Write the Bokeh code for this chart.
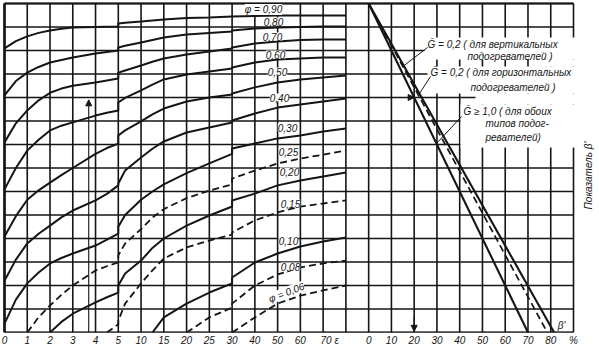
import numpy as np
from bokeh.plotting import figure
from bokeh.models import Range1d, FixedTicker, Label, Arrow, NormalHead
from bokeh.embed import file_html
from bokeh.resources import INLINE

# ---------------- data ----------------
# epsilon scale of the left nomogram (equal spacing per listed value; 80 = right border)
EPS_AXIS = [0, 1, 2, 3, 4, 5, 10, 15, 20, 25, 30, 40, 50, 60, 70, 80]
EPS_TICK_LABELS = ["0", "1", "2", "3", "4", "5", "10", "15", "20", "25", "30", "40", "50", "60", "70  ε"]
BETA_TICKS = [0, 10, 20, 30, 40, 50, 60, 70, 80, 90]
BETA_TICK_LABELS = ["0", "10", "20", "30", "40", "50", "60", "70", "80", "%"]

PHI_LABELS = ["0,90", "0,80", "0,70", "0,60", "0,50", "0,40", "0,30",
              "0,25", "0,20", "0,15", "0,10", "0,08", "0,06"]
PHI_DASHED = [False, False, False, False, False, False, False,
              True, False, True, False, True, True]

nan = float("nan")
EPS_SEG1 = [0, 0.5, 1, 1.5, 2, 2.5, 3, 4, 4.5, 5]
U_SEG1 = [
    [12.09, 12.40, 12.60, 12.75, 12.85, 12.93, 12.98, 13.00, 13.01, 13.02],
    [10.09, 10.70, 11.06, 11.30, 11.49, 11.60, 11.70, 11.87, 11.94, 12.00],
    [8.09, 8.90, 9.45, 9.88, 10.20, 10.38, 10.50, 10.64, 10.72, 10.81],
    [6.09, 7.00, 7.74, 8.20, 8.60, 8.80, 8.94, 9.23, 9.35, 9.45],
    [4.09, 4.95, 5.65, 6.05, 6.38, 6.70, 7.00, 7.60, 7.85, 8.04],
    [2.20, 3.10, 3.79, 4.20, 4.55, 4.90, 5.19, 5.62, 5.90, 6.26],
    [0.38, 1.40, 2.09, 2.55, 2.94, 3.17, 3.36, 3.70, 3.95, 4.21],
    [nan, nan, 0.00, 0.65, 1.15, 1.60, 2.00, 2.64, 2.82, 2.98],
    [nan, nan, nan, nan, 0.00, 0.45, 0.80, 1.28, 1.50, 1.70],
    [nan, nan, nan, nan, nan, nan, nan, nan, 0.00, 0.35],
    [nan] * 10,
    [nan] * 10,
    [nan] * 10,
]
EPS_SEG2 = [5, 6.5, 10, 12.5, 15, 20, 25, 30]
U_SEG2 = [
    [13.15, 13.18, 13.23, 13.28, 13.32, 13.38, 13.40, 13.45],
    [12.13, 12.20, 12.34, 12.45, 12.55, 12.68, 12.74, 12.81],
    [11.06, 11.15, 11.36, 11.52, 11.66, 11.83, 11.96, 12.09],
    [9.79, 9.98, 10.30, 10.55, 10.77, 10.98, 11.11, 11.23],
    [8.38, 8.60, 8.98, 9.28, 9.53, 9.83, 10.00, 10.13],
    [6.34, 6.89, 7.45, 7.82, 8.13, 8.51, 8.72, 8.94],
    [4.50, 5.00, 5.65, 6.00, 6.30, 6.78, 7.20, 7.60],
    [3.28, 3.79, 4.40, 4.89, 5.25, 5.72, 6.04, 6.30],
    [2.00, 2.51, 3.06, 3.60, 4.00, 4.55, 4.98, 5.36],
    [0.50, 1.23, 2.09, 2.64, 3.15, 3.62, 3.91, 4.17],
    [nan, nan, nan, 0.00, 0.64, 1.23, 1.70, 2.09],
    [nan, nan, nan, nan, nan, 0.00, 0.64, 1.06],
    [nan] * 8,
]
EPS_SEG3 = [30, 40, 50, 60, 70, 80]
U_SEG3 = [
    [13.45, 13.47, 13.49, 13.49, 13.49, 13.49],
    [12.85, 12.94, 12.98, 13.00, 13.02, 13.02],
    [12.13, 12.30, 12.38, 12.45, 12.47, 12.47],
    [11.28, 11.49, 11.62, 11.66, 11.70, 11.70],
    [10.17, 10.43, 10.64, 10.77, 10.85, 10.94],
    [9.02, 9.32, 9.57, 9.70, 9.83, 9.96],
    [7.83, 8.04, 8.26, 8.38, 8.55, 8.68],
    [6.55, 6.89, 7.19, 7.40, 7.57, 7.74],
    [5.62, 5.91, 6.26, 6.47, 6.64, 6.81],
    [4.26, 4.77, 5.11, 5.36, 5.49, 5.62],
    [2.34, 2.98, 3.36, 3.66, 3.87, 4.04],
    [1.23, 2.00, 2.47, 2.77, 2.94, 3.06],
    [0.00, 0.64, 1.23, 1.57, 1.79, 2.00],
]

# right panel: beta' lines from 0 % (top) to their value at the bottom
BETA_LINE_LABELS = ["G=0.2 vertical", "G=0.2 horizontal", "G>=1.0"]
BETA_LINE_END = [81.5, 78.5, 70.0]
BETA_LINE_DASH = ["solid", "dashed", "solid"]

# worked example
EXAMPLE_EPS = 3.7
EXAMPLE_U = 10.0
EXAMPLE_BETA = 20.0

# ---------------- scales ----------------
N_ROWS = 14
BETA_ZERO_COL = 16
N_COLS = 25


def ex(eps):
    return np.interp(eps, EPS_AXIS, np.arange(len(EPS_AXIS)))


def bx(beta):
    return BETA_ZERO_COL + np.asarray(beta, dtype=float) / 10.0


def beta_on_line(u, end):
    return float(np.interp(u, [0, N_ROWS], [end, 0.0]))


W, H = 599, 351
PX0, PXU, PYU = 4.0, 22.76, 23.5
FRAME_H = 332

p = figure(width=W, height=H,
           x_range=Range1d(-PX0 / PXU, (W - PX0) / PXU),
           y_range=Range1d(0, FRAME_H / PYU),
           output_backend="svg", toolbar_location=None,
           y_axis_location=None,
           min_border_left=0, min_border_right=0,
           min_border_top=0, min_border_bottom=19)
p.outline_line_color = None
p.grid.visible = False
p.background_fill_color = "white"
p.border_fill_color = "white"

INK = "#151515"
FONT = "Liberation Sans"

# grid
cols = np.arange(N_COLS + 1)
rows = np.arange(N_ROWS + 1)
p.segment(x0=cols, y0=0, x1=cols, y1=N_ROWS, line_color=INK, line_width=1.6)
p.segment(x0=0, y0=rows, x1=N_COLS, y1=rows, line_color=INK, line_width=1.4)
# thicker outer frame of the left part
p.line(x=[0, 0], y=[0, N_ROWS], line_color=INK, line_width=2.6)
p.line(x=[0, N_COLS], y=[0, 0], line_color=INK, line_width=2.0)
p.line(x=[0, N_COLS], y=[N_ROWS, N_ROWS], line_color=INK, line_width=1.8)


def px2x(px):
    return (px - PX0) / PXU


def py2y(py):
    return (FRAME_H - py) / PYU


# white areas behind the right-hand notes (as on the original sheet)
boxes = [(424, 580, 37, 59), (427, 580, 66, 93), (475, 580, 93, 104),
         (460, 580, 104, 147), (540, 580, 59, 66)]
p.quad(left=[px2x(b[0]) for b in boxes], right=[px2x(b[1]) for b in boxes],
       top=[py2y(b[2]) for b in boxes], bottom=[py2y(b[3]) for b in boxes],
       fill_color="white", line_color=None)

# phi curves
for i, lab in enumerate(PHI_LABELS):
    xs = np.array(list(ex(EPS_SEG1)) + list(ex(EPS_SEG2)) + list(ex(EPS_SEG3)), dtype=float)
    ys = np.array(list(U_SEG1[i]) + list(U_SEG2[i]) + list(U_SEG3[i]), dtype=float)
    if PHI_DASHED[i]:
        p.line(xs, ys, line_color=INK, line_width=1.8, line_dash="7 4",
               line_join="round")
    else:
        p.line(xs, ys, line_color=INK, line_width=2.0, line_join="round")

# beta' lines
for end, dash in zip(BETA_LINE_END, BETA_LINE_DASH):
    p.line(bx([0.0, end]), [N_ROWS, 0], line_color=INK,
           line_width=1.7 if dash == "dashed" else 2.1,
           line_dash="7 4" if dash == "dashed" else "solid")

# leaders from the notes to their lines
lead_targets = [(BETA_LINE_END[0], 11.35, 427, 47),
                (BETA_LINE_END[1], 10.10, 430, 76),
                (BETA_LINE_END[2], 8.04, 461, 116)]
for end, u_t, sx, sy in lead_targets:
    p.line([px2x(sx), float(bx(beta_on_line(u_t, end)))], [py2y(sy), u_t],
           line_color=INK, line_width=1.0)

# worked example arrows
head = dict(size=6, fill_color=INK, line_color=INK, line_width=1)
p.add_layout(Arrow(end=NormalHead(**head), x_start=float(ex(EXAMPLE_EPS)), y_start=0,
                   x_end=float(ex(EXAMPLE_EPS)), y_end=EXAMPLE_U - 0.1,
                   line_color=INK, line_width=1.1))
p.add_layout(Arrow(end=NormalHead(**head),
                   x_start=float(bx(EXAMPLE_BETA - 6)), y_start=EXAMPLE_U,
                   x_end=float(bx(beta_on_line(EXAMPLE_U, BETA_LINE_END[2]))), y_end=EXAMPLE_U,
                   line_color=INK, line_width=1.1))
p.add_layout(Arrow(end=NormalHead(**head),
                   x_start=float(bx(EXAMPLE_BETA)), y_start=0.7,
                   x_end=float(bx(EXAMPLE_BETA)), y_end=0.05,
                   line_color=INK, line_width=1.1))

# axis labels (the last epsilon label carries the symbol, so it is nudged right)
eps_ticks = [float(v) for v in range(len(EPS_TICK_LABELS))]
eps_ticks[-1] += 0.35
ticks = eps_ticks + [float(b) for b in bx(BETA_TICKS)]
labels = EPS_TICK_LABELS + BETA_TICK_LABELS
overrides = {t: l for t, l in zip(ticks, labels)}
ax = p.xaxis[0]
ax.ticker = FixedTicker(ticks=ticks)
ax.major_label_overrides = overrides
ax.axis_line_color = None
ax.major_tick_line_color = None
ax.minor_tick_line_color = None
ax.major_tick_out = 0
ax.major_tick_in = 0
ax.major_label_standoff = 2
ax.major_label_text_font = FONT
ax.major_label_text_font_style = "italic"
ax.major_label_text_font_size = "10px"
ax.major_label_text_color = INK

txt = dict(text_font=FONT, text_font_style="italic", text_color=INK)

# phi labels
phi_pos = [(263, 9), (273, 21), (272, 36), (275, 54), (277, 71), (279, 97),
           (287, 127), (288, 151), (289, 171), (290, 203), (288, 240),
           (290, 266), (286, 292)]
for i, lab in enumerate(PHI_LABELS):
    text = lab
    angle = 0.0
    if i == 0 or i == len(PHI_LABELS) - 1:
        text = "φ = " + lab
    if i == len(PHI_LABELS) - 1:
        angle = np.deg2rad(21)
    p.add_layout(Label(x=px2x(phi_pos[i][0]), y=py2y(phi_pos[i][1]), text=text,
                       angle=angle, text_font_size="10px", text_align="center",
                       text_baseline="middle", background_fill_color="white",
                       **txt))

# notes of the right part
notes = [("Ḡ = 0,2  ( для вертикальных", 427, 44),
         ("подогревателей )", 467, 56),
         ("Ḡ = 0,2  ( для горизонтальных", 430, 72),
         ("подогревателей )", 470, 87),
         ("Ḡ ≥ 1,0  ( для обоих", 463, 111),
         ("типов подог-", 485, 123),
         ("ревателей)", 485, 137)]
for t, sx, sy in notes:
    p.add_layout(Label(x=px2x(sx), y=py2y(sy), text=t, text_font_size="10px",
                       text_align="left", text_baseline="middle", **txt))

p.add_layout(Label(x=px2x(561), y=py2y(325), text="β'", text_font_size="10px",
                   text_align="center", text_baseline="middle", **txt))
p.add_layout(Label(x=px2x(588), y=py2y(175), text="Показатель β'",
                   angle=np.pi / 2, text_font_size="10px", text_align="center",
                   text_baseline="middle", **txt))

open("out.html", "w").write(file_html(p, INLINE))
